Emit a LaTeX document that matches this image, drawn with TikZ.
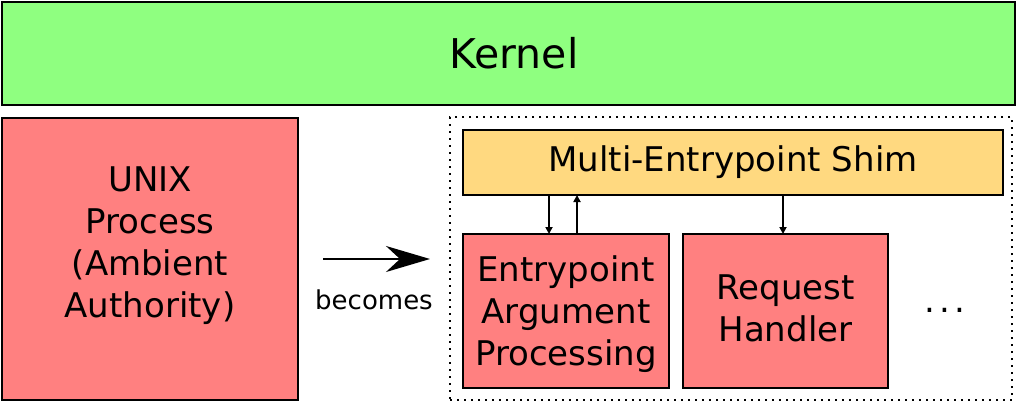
\documentclass[tikz,border=0pt]{standalone}
\usepackage{fontspec}
\setmainfont{DejaVu Sans}
\usetikzlibrary{arrows.meta}
\definecolor{kgreen}{HTML}{8FFF80}
\definecolor{pred}{HTML}{FF8080}
\definecolor{shimy}{HTML}{FFD980}
\begin{document}
\begin{tikzpicture}[x=1pt,y=-1pt,
  box/.style={draw=black,line width=2.2pt,inner sep=0pt,outer sep=0pt,align=center,
    font=\fontsize{34}{42}\selectfont},
  lbl/.style={inner sep=0pt,align=center,font=\fontsize{34}{42}\selectfont},
  small/.style={-{Triangle[length=7pt,width=7pt]},line width=1.8pt}]
\useasboundingbox (0,0) rectangle (1017,405);
\node[box,fill=kgreen,minimum width=1013pt,minimum height=103pt] (kernel) at (508.5,53.5) {};
\node[lbl,font=\fontsize{41}{48}\selectfont] (kerneltext) at (514,53.5) {Kernel};
\node[box,fill=pred,minimum width=296pt,minimum height=282pt] (unix) at (150,259) {};
\node[lbl] (unixtext) at (150,246) {UNIX\\Process\\(Ambient\\Authority)};
\node[draw=black,line width=2pt,dash pattern=on 2pt off 5pt,minimum width=562pt,minimum height=283pt,inner sep=0pt,outer sep=0pt] (group) at (731,258.5) {};
\node[box,fill=shimy,minimum width=540pt,minimum height=65pt] (shim) at (733,162.5) {Multi-Entrypoint Shim};
\node[box,fill=pred,minimum width=206pt,minimum height=154pt] (entry) at (566,311) {};
\node[lbl] (entrytext) at (566,314) {Entrypoint\\Argument\\Processing};
\node[box,fill=pred,minimum width=205pt,minimum height=154pt] (req) at (785.5,311) {};
\node[lbl] (reqtext) at (785.5,308) {Request\\Handler};
\node[lbl] (dots) at (945,310) {.\hspace{4pt}.\hspace{4pt}.};
\coordinate (bstart) at (323,259);
\coordinate (bend) at (430,259);
\draw[-{Stealth[length=44pt,width=26pt,inset=14pt]},line width=2pt] (bstart) -- (bend);
\node[font=\fontsize{26}{30}\selectfont] (becomes) at (374,300) {becomes};
\draw[small] (shim.south -| 549,0) -- (entry.north -| 549,0);
\draw[small] (entry.north -| 577,0) -- (shim.south -| 577,0);
\draw[small] (shim.south -| 783,0) -- (req.north -| 783,0);
\end{tikzpicture}
\end{document}
